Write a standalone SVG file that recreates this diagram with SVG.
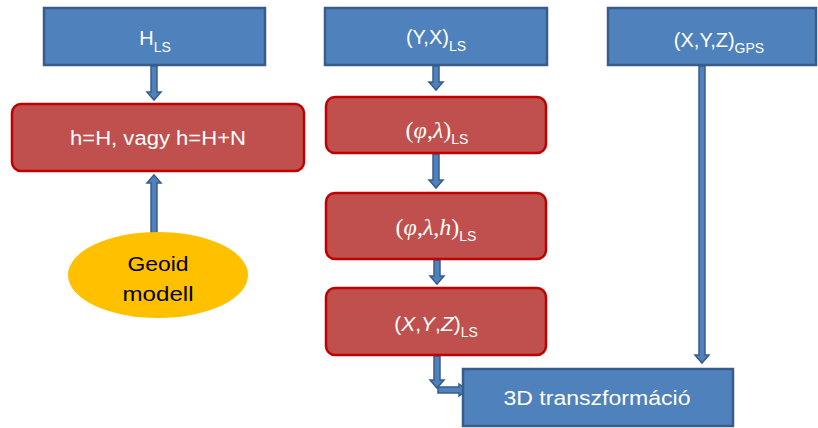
<svg xmlns="http://www.w3.org/2000/svg" width="818" height="428" viewBox="0 0 818 428">
<style>
.blue{fill:#4f81bd;stroke:#385d8a;stroke-width:2.5}
.red{fill:#c0504d;stroke:#c00000;stroke-width:2.5}
.arr{fill:#4f81bd;stroke:#385d8a;stroke-width:1.5;stroke-linejoin:miter}
.t{font-family:"Liberation Sans",Arial,sans-serif;font-size:20px;fill:#ffffff;text-anchor:middle}
.m{font-family:"Liberation Serif","Times New Roman",serif;font-size:24px;fill:#ffffff;text-anchor:middle}
.ms{font-family:"Liberation Sans",Arial,sans-serif;font-size:21px;fill:#ffffff;text-anchor:middle}
.i{font-style:italic}
.sub{font-family:"Liberation Sans",Arial,sans-serif;font-size:14px;font-style:normal}
.k{font-family:"Liberation Sans",Arial,sans-serif;font-size:21px;fill:#000000;text-anchor:middle}
</style>
<rect width="818" height="428" fill="#ffffff"/>
<g id="connectors">
<polygon class="arr" points="151,66 157,66 157,92 161,92 154,100 147,92 151,92"/>
<polygon class="arr" points="151,233 157,233 157,183 161,183 154,175 147,183 151,183"/>
<polygon class="arr" points="433,66 439,66 439,82 443,82 436,90 429,82 433,82"/>
<polygon class="arr" points="433,154 439,154 439,180 443,180 436,188 429,180 433,180"/>
<polygon class="arr" points="434,260 440,260 440,276 444,276 437,284 430,276 434,276"/>
<polygon class="arr" points="434,356 440,356 440,380 444,380 437,388 430,380 434,380"/>
<polygon class="arr" points="438,387 459,387 459,384 467,390 459,396 459,393 438,393"/>
<polygon class="arr" points="699,66 705,66 705,355 709,355 702,363 695,355 699,355"/>
</g>
<g id="hls">
<rect class="blue" x="44" y="8" width="221" height="57"/>
<text class="t" x="155" y="45" font-size="21">H<tspan class="sub" dy="7">LS</tspan></text>
</g>
<g id="hcalc">
<rect class="red" x="12" y="104" width="292" height="67" rx="9"/>
<text class="t" x="158" y="145" textLength="176" lengthAdjust="spacingAndGlyphs">h=H, vagy h=H+N</text>
</g>
<g id="geoid">
<ellipse cx="158" cy="275" rx="90" ry="43" fill="#ffc000"/>
<text class="k" x="158" y="271" textLength="61" lengthAdjust="spacingAndGlyphs">Geoid</text>
<text class="k" x="158" y="301" textLength="71" lengthAdjust="spacingAndGlyphs">modell</text>
</g>
<g id="yx">
<rect class="blue" x="325" y="8" width="222" height="57"/>
<text class="t" x="436" y="44" font-size="21">(Y,X)<tspan class="sub" dy="7">LS</tspan></text>
</g>
<g id="phila">
<rect class="red" x="326" y="97" width="220" height="56" rx="9"/>
<text class="m" x="437" y="138">(<tspan class="i">φ</tspan>,<tspan class="i">λ</tspan>)<tspan class="sub" dy="6">LS</tspan></text>
</g>
<g id="philah">
<rect class="red" x="326" y="193" width="220" height="66" rx="9"/>
<text class="m" x="436" y="235">(<tspan class="i">φ</tspan>,<tspan class="i">λ</tspan>,<tspan class="i">h</tspan>)<tspan class="sub" dy="6">LS</tspan></text>
</g>
<g id="xyzls">
<rect class="red" x="326" y="288" width="220" height="67" rx="9"/>
<text class="ms" x="436" y="331">(<tspan class="i">X</tspan>,<tspan class="i">Y</tspan>,<tspan class="i">Z</tspan>)<tspan class="sub" dy="6">LS</tspan></text>
</g>
<g id="gps">
<rect class="blue" x="608" y="8" width="208" height="57"/>
<text class="t" x="719" y="47" font-size="21">(X,Y,Z)<tspan class="sub" dy="6">GPS</tspan></text>
</g>
<g id="trans">
<rect class="blue" x="463" y="369" width="270" height="57"/>
<text class="t" x="597" y="405" textLength="187" lengthAdjust="spacingAndGlyphs">3D transzformáció</text>
</g>
</svg>
